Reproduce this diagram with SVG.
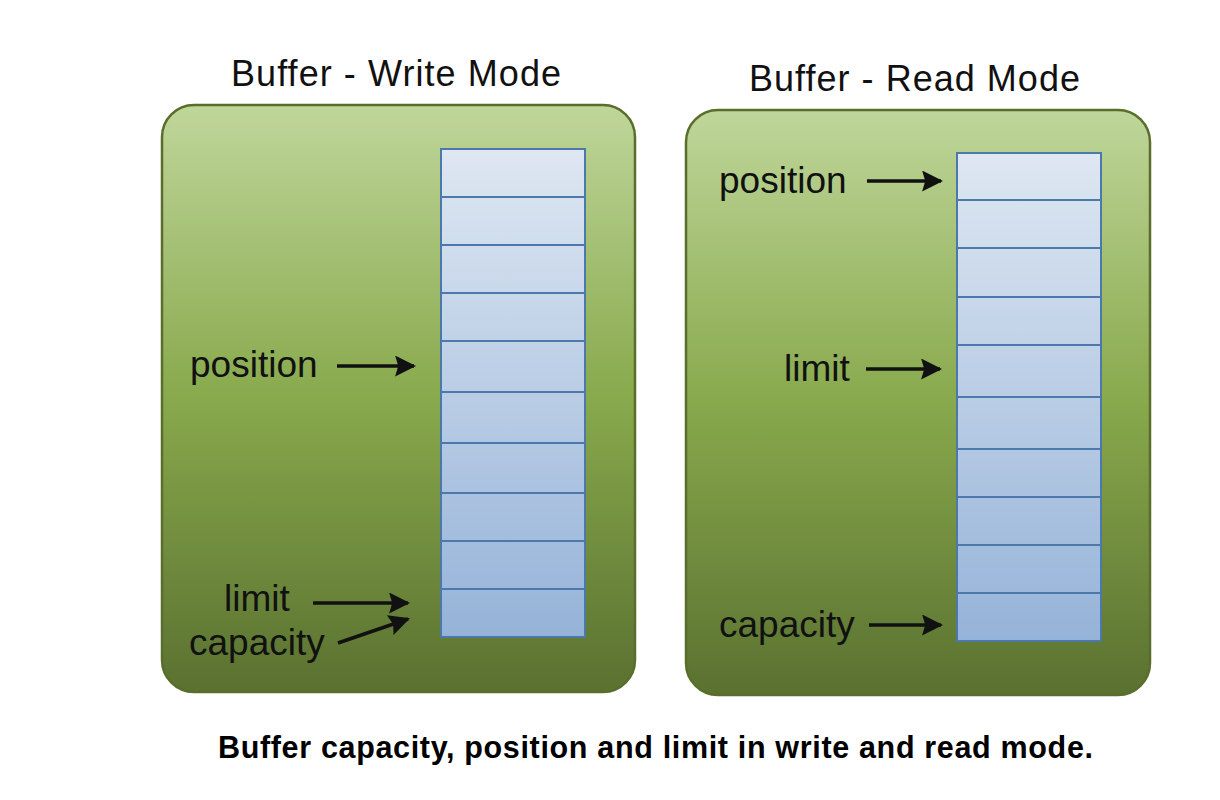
<svg xmlns="http://www.w3.org/2000/svg" width="1220" height="800" viewBox="0 0 1220 800">
  <style>
    .title { font-family: "Liberation Sans", Arial, sans-serif; font-size: 36px; fill: #111; }
    .label { font-family: "Liberation Sans", Arial, sans-serif; font-size: 37px; fill: #111; }
    .caption { font-family: "Liberation Sans", Arial, sans-serif; font-size: 30.5px; font-weight: bold; fill: #000; }
    .panel { stroke: #5a6e2c; stroke-width: 2.5; fill: url(#panelGrad); }
    .cell { fill: none; stroke: #4d78ab; stroke-width: 2; }
    .arrow { stroke: #111; stroke-width: 3.5; fill: none; marker-end: url(#head); }
  </style>
  <defs>
    <linearGradient id="panelGrad" x1="0" y1="0" x2="0" y2="1">
      <stop offset="0" stop-color="#bfd69a"/>
      <stop offset="0.5" stop-color="#88a94c"/>
      <stop offset="1" stop-color="#5a7130"/>
    </linearGradient>
    <linearGradient id="cellGrad" x1="0" y1="0" x2="0" y2="1">
      <stop offset="0" stop-color="#dee7f2"/>
      <stop offset="1" stop-color="#95b3d8"/>
    </linearGradient>
    <marker id="head" viewBox="0 0 10 10" refX="9" refY="5" markerWidth="6" markerHeight="6" orient="auto" markerUnits="strokeWidth">
      <path d="M0,0 L10,5 L0,10 L1.5,5 Z" fill="#111"/>
    </marker>
  </defs>

  <g id="write-mode">
    <text class="title" x="231" y="86" textLength="330" lengthAdjust="spacing">Buffer - Write Mode</text>
    <rect class="panel" x="162" y="105" width="473" height="587" rx="32" ry="32"/>
    <g id="write-buffer">
      <rect x="441" y="149" width="144" height="488" fill="url(#cellGrad)"/>
      <rect class="cell" x="441" y="149" width="144" height="48"/>
      <rect class="cell" x="441" y="197" width="144" height="48"/>
      <rect class="cell" x="441" y="245" width="144" height="48"/>
      <rect class="cell" x="441" y="293" width="144" height="48"/>
      <rect class="cell" x="441" y="341" width="144" height="51"/>
      <rect class="cell" x="441" y="392" width="144" height="51"/>
      <rect class="cell" x="441" y="443" width="144" height="50"/>
      <rect class="cell" x="441" y="493" width="144" height="48"/>
      <rect class="cell" x="441" y="541" width="144" height="48"/>
      <rect class="cell" x="441" y="589" width="144" height="48"/>
    </g>
    <text class="label" x="190" y="377">position</text>
    <text class="label" x="224" y="611">limit</text>
    <text class="label" x="189" y="655">capacity</text>
  </g>

  <g id="read-mode">
    <text class="title" x="749" y="91" textLength="331" lengthAdjust="spacing">Buffer - Read Mode</text>
    <rect class="panel" x="686" y="110" width="464" height="585" rx="32" ry="32"/>
    <g id="read-buffer">
      <rect x="957" y="153" width="144" height="488" fill="url(#cellGrad)"/>
      <rect class="cell" x="957" y="153" width="144" height="47"/>
      <rect class="cell" x="957" y="200" width="144" height="48"/>
      <rect class="cell" x="957" y="248" width="144" height="49"/>
      <rect class="cell" x="957" y="297" width="144" height="48"/>
      <rect class="cell" x="957" y="345" width="144" height="52"/>
      <rect class="cell" x="957" y="397" width="144" height="52"/>
      <rect class="cell" x="957" y="449" width="144" height="48"/>
      <rect class="cell" x="957" y="497" width="144" height="48"/>
      <rect class="cell" x="957" y="545" width="144" height="48"/>
      <rect class="cell" x="957" y="593" width="144" height="48"/>
    </g>
    <text class="label" x="719" y="193">position</text>
    <text class="label" x="784" y="381">limit</text>
    <text class="label" x="719" y="637">capacity</text>
  </g>

  <g id="connectors">
    <line class="arrow" x1="337" y1="366" x2="414" y2="366"/>
    <line class="arrow" x1="313" y1="603" x2="408" y2="603"/>
    <line class="arrow" x1="338" y1="643" x2="408" y2="619"/>
    <line class="arrow" x1="867" y1="181" x2="941" y2="181"/>
    <line class="arrow" x1="866" y1="369" x2="940" y2="369"/>
    <line class="arrow" x1="869" y1="625" x2="941" y2="625"/>
  </g>

  <text class="caption" x="218" y="758" textLength="875" lengthAdjust="spacing">Buffer capacity, position and limit in write and read mode.</text>
</svg>
